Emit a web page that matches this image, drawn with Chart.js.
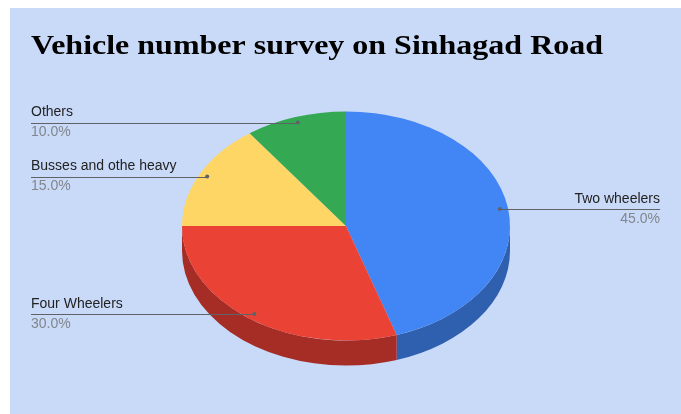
<!DOCTYPE html>
<html>
<head>
<meta charset="utf-8">
<script src="https://cdn.jsdelivr.net/npm/chart.js@4"></script>
<style>
  html, body { margin: 0; padding: 0; background: #fff; }
  canvas { display: block; }
</style>
</head>
<body>
<canvas id="myChart" width="681" height="414"></canvas>
<script>
const titleText = 'Vehicle number survey on Sinhagad Road';
const categories = ['Two wheelers', 'Four Wheelers', 'Busses and othe heavy', 'Others'];
const shares = [45, 30, 15, 10];

const topColors = ['#4285f4', '#ea4335', '#fdd666', '#34a853'];
const sideColors = ['#2f5faf', '#a52d25', '#b5963f', '#25783b'];

const TILT = 114.5 / 164;   // vertical squash of the pie
const DEPTH = 25;           // thickness of the pie side
const TITLE_WIDTH = 572;    // title spans about this many px in the reference

// 배경 + 제목
const backdrop = {
  id: 'backdrop',
  beforeDraw(chart) {
    const c = chart.ctx;
    c.save();
    c.fillStyle = '#ffffff';
    c.fillRect(0, 0, chart.width, chart.height);
    c.fillStyle = '#c9daf8';
    c.fillRect(10, 8, chart.width - 10, chart.height - 8);

    c.fillStyle = '#000000';
    c.font = 'bold 28px "Liberation Serif", serif';
    c.textBaseline = 'alphabetic';
    const w = c.measureText(titleText).width;
    c.translate(31, 54);
    c.scale(TITLE_WIDTH / w, 1);
    c.fillText(titleText, 0, 0);
    c.restore();
  }
};

// 3D 효과: 옆면 그리고 위쪽 타원으로 눌러주기
const tilt3d = {
  id: 'tilt3d',
  beforeDatasetsDraw(chart) {
    const c = chart.ctx;
    const arcs = chart.getDatasetMeta(0).data;
    if (!arcs.length) return;
    const cx = arcs[0].x, cy = arcs[0].y;
    const rx = arcs[0].outerRadius, ry = rx * TILT;

    c.save();
    arcs.forEach((arc, i) => {
      const a1 = Math.max(arc.startAngle, 0);
      const a2 = Math.min(arc.endAngle, Math.PI);
      if (a2 <= a1) return;
      c.beginPath();
      c.ellipse(cx, cy, rx, ry, 0, a1, a2);
      c.ellipse(cx, cy + DEPTH, rx, ry, 0, a2, a1, true);
      c.closePath();
      c.fillStyle = sideColors[i];
      c.fill();
    });
    c.restore();

    c.save();
    c.translate(cx, cy);
    c.scale(1, TILT);
    c.translate(-cx, -cy);
  },
  afterDatasetsDraw(chart) {
    chart.ctx.restore();
  }
};

// 라벨 + 지시선
const leaderLabels = {
  id: 'leaderLabels',
  afterDatasetsDraw(chart) {
    const c = chart.ctx;
    const arcs = chart.getDatasetMeta(0).data;
    const total = shares.reduce((a, b) => a + b, 0);
    c.save();
    arcs.forEach((arc, i) => {
      const rx = arc.outerRadius, ry = rx * TILT;
      const mid = (arc.startAngle + arc.endAngle) / 2;
      const px = arc.x + 0.95 * rx * Math.cos(mid);
      const py = arc.y + 0.95 * ry * Math.sin(mid);
      const right = Math.cos(mid) > 0;
      const endX = right ? 660 : 31;

      c.strokeStyle = '#5f6368';
      c.lineWidth = 1;
      c.beginPath();
      c.moveTo(px, Math.round(py) + 0.5);
      c.lineTo(endX, Math.round(py) + 0.5);
      c.stroke();

      c.fillStyle = '#5f6368';
      c.beginPath();
      c.arc(px, py, 2, 0, Math.PI * 2);
      c.fill();

      c.textAlign = right ? 'right' : 'left';
      c.textBaseline = 'middle';
      c.font = '14px "Liberation Sans", Arial, sans-serif';
      c.fillStyle = '#222222';
      c.fillText(categories[i], endX, py - 10);
      c.fillStyle = '#80868b';
      c.fillText((shares[i] / total * 100).toFixed(1) + '%', endX, py + 10);
    });
    c.restore();
  }
};

const chart = new Chart(document.getElementById('myChart'), {
  type: 'pie',
  data: {
    labels: categories,
    datasets: [{
      data: shares,
      backgroundColor: topColors,
      borderWidth: 0
    }]
  },
  options: {
    responsive: false,
    devicePixelRatio: 1,
    animation: false,
    layout: {
      padding: { left: 182, right: 171, top: 62, bottom: 24 }
    },
    plugins: {
      legend: { display: false },
      tooltip: { enabled: false },
      title: { display: false }
    }
  },
  plugins: [backdrop, tilt3d, leaderLabels]
});
</script>
</body>
</html>
